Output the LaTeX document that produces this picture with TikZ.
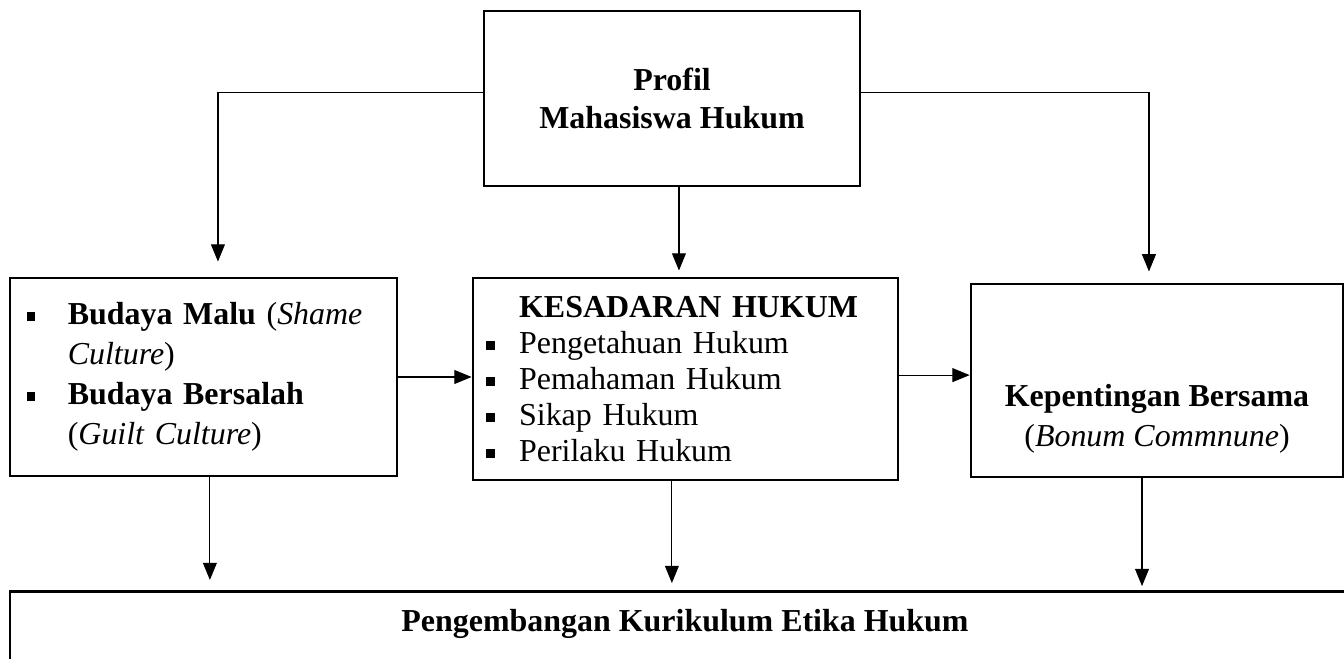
\documentclass[tikz,border=0pt]{standalone}
\usepackage{fontspec}
\setmainfont{Liberation Serif}
\usetikzlibrary{arrows.meta}
\newcommand\blt{\rule[1.3pt]{3.1pt}{3.1pt}}
\begin{document}
\begin{tikzpicture}[x=0.36pt,y=-0.36pt,
  kotak/.style={draw,line width=1pt,inner sep=0pt,font=\fontsize{11.5}{13}\selectfont},
  panah/.style={-{Triangle[length=6.2pt,width=5pt]},line width=0.4pt}]
  \useasboundingbox (0,0) rectangle (1344,659);
  \node[kotak,minimum width=135.4pt,minimum height=63pt,align=center,
    font=\fontsize{11.5}{13.7}\selectfont\bfseries] (profil) at (672,98.5)
    {Profil\\Mahasiswa Hukum};
  \node[kotak,text width=127.3pt,inner xsep=6pt,minimum height=71.3pt,align=left,
    font=\fontsize{11.5}{14.4}\selectfont] (budaya) at (203.5,377)
    {\makebox[14.8pt][l]{\blt}\textbf{Budaya Malu} (\textit{Shame}\\
     \hspace*{14.8pt}\textit{Culture})\\
     \makebox[14.8pt][l]{\blt}\textbf{Budaya Bersalah}\\
     \hspace*{14.8pt}(\textit{Guilt Culture})};
  \node[kotak,text width=143.6pt,inner xsep=4.7pt,minimum height=72.7pt,align=left] (sadar) at (685.5,379)
    {\hspace*{11.9pt}\textbf{KESADARAN HUKUM}\\
     \makebox[11.9pt][l]{\blt}Pengetahuan Hukum\\
     \makebox[11.9pt][l]{\blt}Pemahaman Hukum\\
     \makebox[11.9pt][l]{\blt}Sikap Hukum\\
     \makebox[11.9pt][l]{\blt}Perilaku Hukum};
  \node[kotak,minimum width=133.9pt,minimum height=69.5pt,align=center,
    font=\fontsize{11.5}{14.4}\selectfont] (kepent) at (1157,380.5)
    {\mbox{}\\[21.2pt]\textbf{Kepentingan Bersama}\\(\textit{Bonum Commnune})};
  \node[kotak,anchor=north,minimum width=486pt,text height=14.4pt,text depth=30pt,
    font=\fontsize{11.5}{13}\selectfont\bfseries] (etika) at (685,590)
    {Pengembangan Kurikulum Etika Hukum};

  \draw[panah,shorten >=5.4pt] ([yshift=2pt]profil.west) -| ([xshift=5.2pt]budaya.north);
  \draw[panah,shorten >=4pt] ([yshift=2pt]profil.east) -| ([xshift=-2.9pt]kepent.north);
  \draw[panah,shorten >=2.2pt] ([xshift=2.5pt]profil.south) -- ([xshift=2.5pt]profil.south |- sadar.north);
  \draw[panah] (budaya.east) -- (budaya.east -| sadar.west);
  \draw[panah] ([yshift=1.4pt]sadar.east) -- ([yshift=1.4pt]sadar.east -| kepent.west);
  \draw[panah,shorten >=3.6pt] ([xshift=2.3pt]budaya.south) -- ([xshift=2.3pt]budaya.south |- etika.north);
  \draw[panah,shorten >=2.5pt] ([xshift=-4.9pt]sadar.south) -- ([xshift=-4.9pt]sadar.south |- etika.north);
  \draw[panah,shorten >=1.4pt] ([xshift=-5.4pt]kepent.south) -- ([xshift=-5.4pt]kepent.south |- etika.north);
\end{tikzpicture}
\end{document}
